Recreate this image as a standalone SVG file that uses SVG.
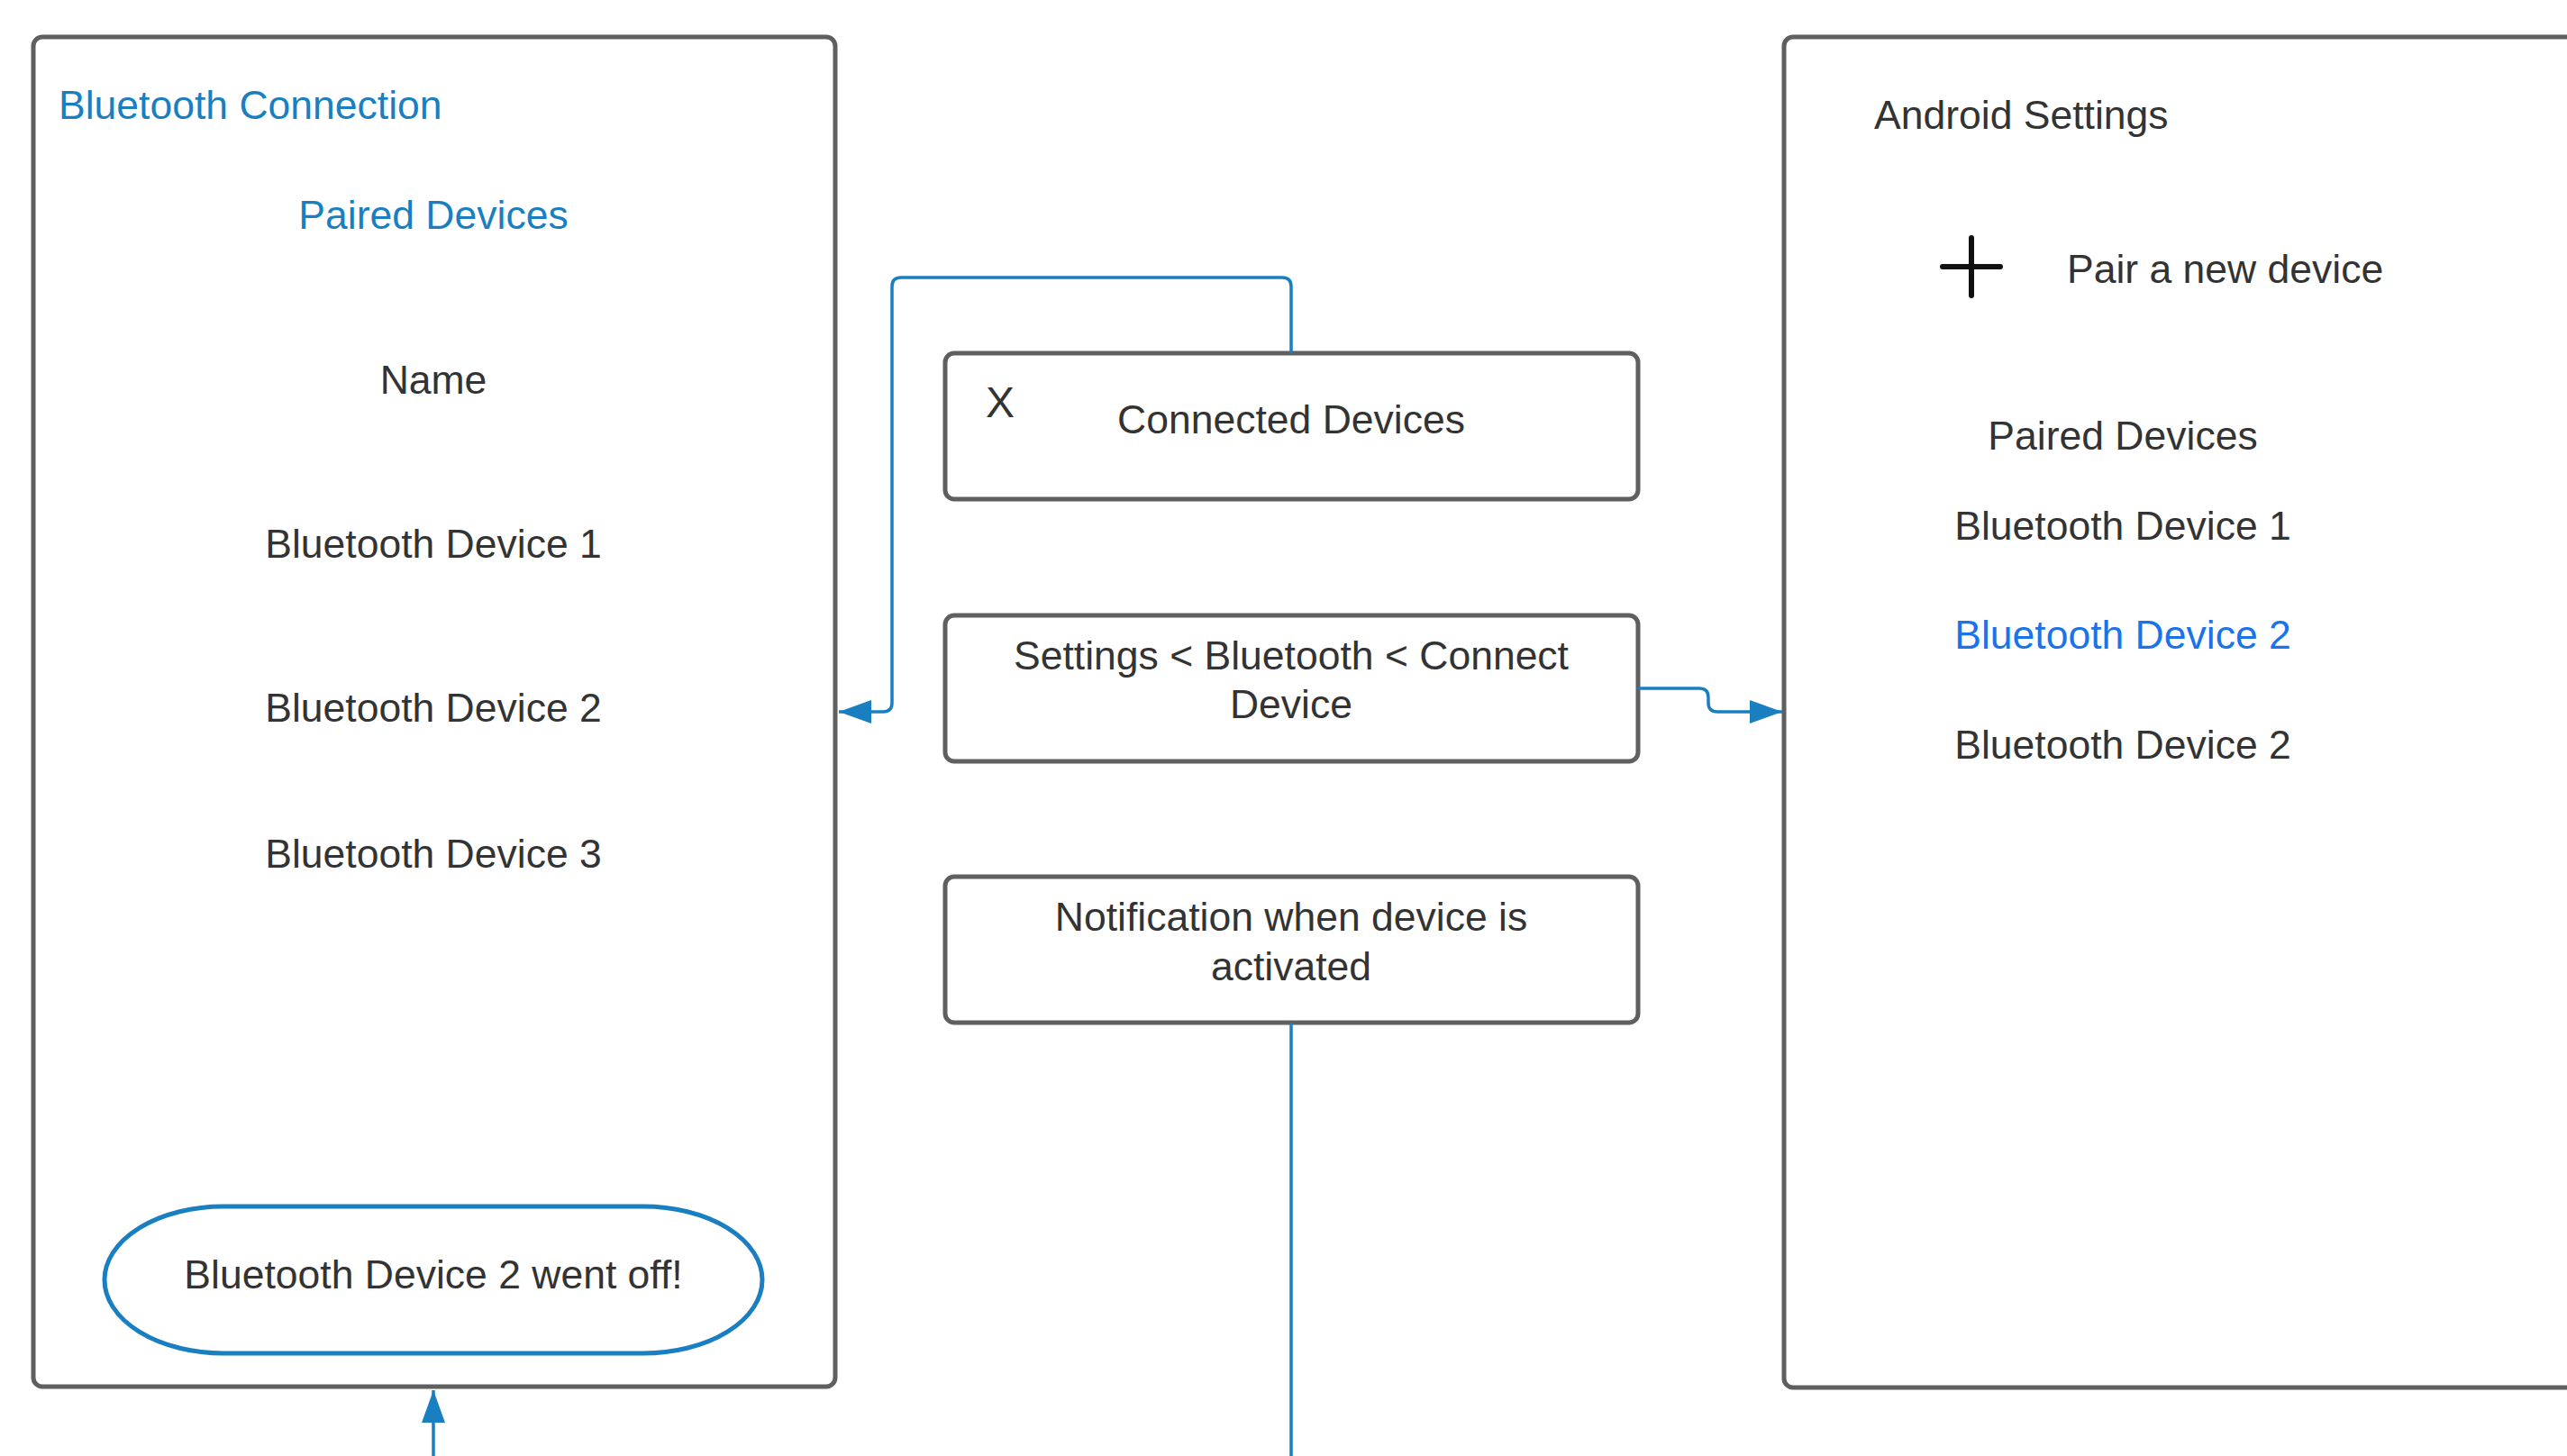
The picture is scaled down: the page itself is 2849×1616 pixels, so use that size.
<svg xmlns="http://www.w3.org/2000/svg" width="2849" height="1616" viewBox="0 0 2849 1616">
<defs>
<style>
.frame{fill:#fff;stroke:#5f5f5f;stroke-width:5}
.box{fill:#fff;stroke:#5f5f5f;stroke-width:5}
.t{font-family:"Liberation Sans",Arial,sans-serif;font-size:44.5px;fill:#333}
.c{text-anchor:middle}
.blue{fill:#1a7fc1}
.blue2{fill:#1a73e8}
.conn{fill:none;stroke:#1a7fc1;stroke-width:3.5}
</style>
<marker id="arr" markerUnits="userSpaceOnUse" markerWidth="36" markerHeight="26" refX="36" refY="13" orient="auto">
<path d="M0,0 L36,13 L0,26 Z" fill="#1a7fc1"/>
</marker>
</defs>
<rect width="2849" height="1616" fill="#fff"/>
<g id="bluetooth-connection">
<rect class="frame" x="37" y="41" width="890" height="1498" rx="10"/>
<text class="t blue" x="65" y="132">Bluetooth Connection</text>
<text class="t c blue" x="481" y="254">Paired Devices</text>
<text class="t c" x="481" y="437">Name</text>
<text class="t c" x="481" y="619">Bluetooth Device 1</text>
<text class="t c" x="481" y="801">Bluetooth Device 2</text>
<text class="t c" x="481" y="963">Bluetooth Device 3</text>
</g>
<g id="went-off">
<rect x="116" y="1339" width="730" height="163" rx="132" ry="81.5" fill="#fff" stroke="#1a7fc1" stroke-width="5"/>
<text class="t c" x="481" y="1430">Bluetooth Device 2 went off!</text>
</g>
<g id="connected-devices">
<rect class="box" x="1049" y="392" width="769" height="162" rx="10"/>
<text class="t" x="1094" y="463" style="font-size:48px">X</text>
<text class="t c" x="1433" y="481">Connected Devices</text>
</g>
<g id="settings-path">
<rect class="box" x="1049" y="683" width="769" height="162" rx="10"/>
<text class="t c" x="1433" y="743">Settings &lt; Bluetooth &lt; Connect</text>
<text class="t c" x="1433" y="797">Device</text>
</g>
<g id="notification">
<rect class="box" x="1049" y="973" width="769" height="162" rx="10"/>
<text class="t c" x="1433" y="1033">Notification when device is</text>
<text class="t c" x="1433" y="1088">activated</text>
</g>
<g id="android-settings">
<rect class="frame" x="1980" y="41" width="1000" height="1499" rx="10"/>
<text class="t" x="2080" y="143">Android Settings</text>
<path d="M2156,296 H2220 M2188,264 V328" stroke="#111" stroke-width="6" stroke-linecap="round" fill="none"/>
<text class="t" x="2294" y="314">Pair a new device</text>
<text class="t c" x="2356" y="499">Paired Devices</text>
<text class="t c" x="2356" y="599">Bluetooth Device 1</text>
<text class="t c blue2" x="2356" y="720">Bluetooth Device 2</text>
<text class="t c" x="2356" y="842">Bluetooth Device 2</text>
</g>
<g id="connectors">
<path class="conn" marker-end="url(#arr)" d="M1433,392 V318 Q1433,308 1423,308 H1000 Q990,308 990,318 V780 Q990,790 980,790 H931"/>
<path class="conn" marker-end="url(#arr)" d="M1818,764 H1886 Q1896,764 1896,774 V780 Q1896,790 1906,790 H1978"/>
<path class="conn" marker-end="url(#arr)" d="M1433,1135 V1616 Q1433,1626 1423,1626 H491 Q481,1626 481,1616 V1543"/>
</g>
</svg>
